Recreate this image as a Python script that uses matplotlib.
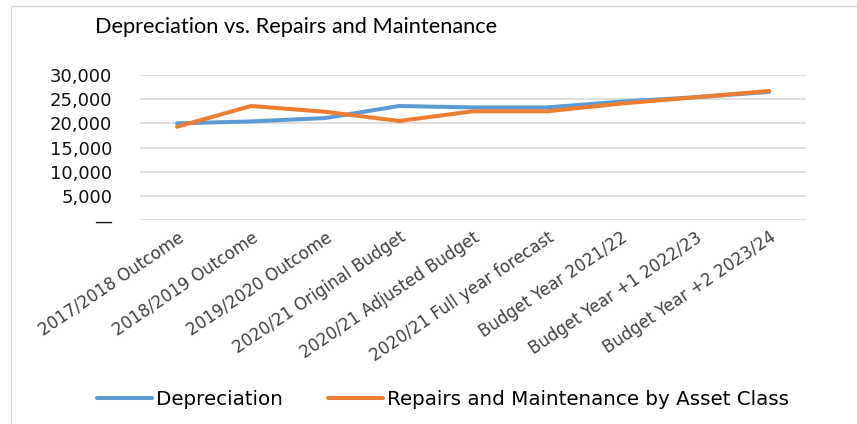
import matplotlib
matplotlib.use("Agg")
import matplotlib.pyplot as plt
from matplotlib.lines import Line2D
from matplotlib.ticker import FuncFormatter

categories = [
    "2017/2018 Outcome", "2018/2019 Outcome", "2019/2020 Outcome",
    "2020/21 Original Budget", "2020/21 Adjusted Budget",
    "2020/21 Full year forecast", "Budget Year 2021/22",
    "Budget Year +1 2022/23", "Budget Year +2 2023/24",
]
depreciation = [20000, 20400, 21100, 23600, 23300, 23300, 24500, 25400, 26500]
repairs = [19300, 23600, 22400, 20500, 22500, 22500, 24100, 25400, 26700]

fig = plt.figure(figsize=(8.57, 4.24), dpi=100)
ax = fig.add_axes([0.1634, 0.481, 0.7771, 0.342])

x = range(len(categories))
ax.plot(x, depreciation, color="#5B9BD5", linewidth=2.9,
        solid_capstyle="round", label="Depreciation")
ax.plot(x, repairs, color="#ED7D31", linewidth=2.9,
        solid_capstyle="round", label="Repairs and Maintenance by Asset Class")

ax.set_xlim(-0.5, len(categories) - 0.5)
ax.set_ylim(0, 30000)
ax.set_yticks(range(0, 30001, 5000))
ax.yaxis.set_major_formatter(FuncFormatter(lambda v, _: "—" if v == 0 else f"{int(v):,}"))
ax.grid(axis="y", color="#D9D9D9", linewidth=1.2)
ax.set_axisbelow(True)
for s in ax.spines.values():
    s.set_visible(False)
ax.tick_params(axis="both", length=0)
ax.tick_params(axis="y", pad=20, labelsize=13, labelcolor="#111111")

ax.set_xticks(list(x))
ax.set_xticklabels(categories, rotation=34, ha="right", rotation_mode="anchor",
                   fontsize=12, color="#404040")
ax.tick_params(axis="x", pad=6)

fig.text(0.345, 0.937, "Depreciation vs. Repairs and Maintenance",
         ha="center", va="center", fontsize=15.7, family="Lato", color="black")

fig.legend(loc="center", bbox_to_anchor=(0.517, 0.057), ncol=2, frameon=False,
           fontsize=14.3, handlelength=2.8, columnspacing=2.25, handletextpad=0.2)

# chart area border
fig.add_artist(Line2D([11 / 857, 11 / 857], [0, 1 - 6 / 424], color="#D9D9D9", linewidth=1))
fig.add_artist(Line2D([11 / 857, 1], [1 - 6 / 424, 1 - 6 / 424], color="#D9D9D9", linewidth=1))

plt.savefig("out.png", dpi=100)
plt.close()
